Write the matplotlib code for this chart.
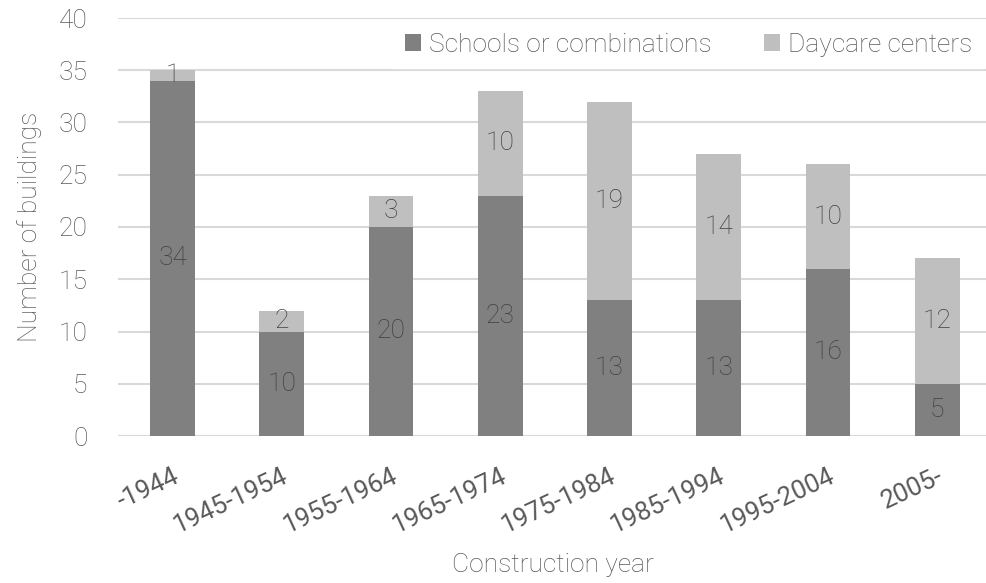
import matplotlib
matplotlib.use("Agg")
import matplotlib.pyplot as plt
from matplotlib import font_manager
import numpy as np

categories = ["-1944", "1945-1954", "1955-1964", "1965-1974", "1975-1984", "1985-1994", "1995-2004", "2005-"]
schools = [34, 10, 20, 23, 13, 13, 16, 5]
daycare = [1, 2, 3, 10, 19, 14, 10, 12]
yticks = [0, 5, 10, 15, 20, 25, 30, 35, 40]

dark = "#808080"
light = "#bfbfbf"
txt = "#595959"

names = {f.name for f in font_manager.fontManager.ttflist}
fam = "Roboto" if "Roboto" in names else "DejaVu Sans"
plt.rcParams["font.family"] = [fam, "DejaVu Sans"]
W = "light"

fig = plt.figure(figsize=(9.87, 5.83), dpi=100)
ax = fig.add_axes([118/987, 1-436/583, 1-118/987, (436-18)/583])

x = np.arange(len(categories))
w = 0.41
ax.bar(x, schools, w, color=dark, label="Schools or combinations", zorder=3)
ax.bar(x, daycare, w, bottom=schools, color=light, label="Daycare centers", zorder=3)

for i in range(len(categories)):
    ax.text(x[i], schools[i]/2, str(schools[i]), ha="center", va="center",
            fontsize=19, color="#404040", fontweight=W, zorder=4)
    ax.text(x[i], schools[i] + daycare[i]/2, str(daycare[i]), ha="center", va="center",
            fontsize=19, color="#404040", fontweight=W, zorder=4)

ax.set_ylim(0, 40)
ax.set_xlim(-0.5, (987-117.4)/109.3 - 0.5)
ax.set_yticks(yticks)
ax.set_yticklabels([str(v) for v in yticks], fontsize=19, color=txt, fontweight=W)
ax.yaxis.grid(True, color="#d9d9d9", linewidth=1.5, zorder=0)
ax.set_axisbelow(True)
for s in ax.spines.values():
    s.set_visible(False)
ax.tick_params(axis="both", length=0)
ax.tick_params(axis="y", pad=22)
ax.set_xticks(x)
ax.set_xticklabels(categories, rotation=25, ha="right", rotation_mode="anchor",
                   fontsize=18.5, color=txt)
ax.tick_params(axis="x", pad=20)
ax.axhline(0, color="#d9d9d9", linewidth=1.5, zorder=1)

ax.set_ylabel("Number of buildings", fontsize=19, color=txt, fontweight=W, labelpad=12)
ax.set_xlabel("Construction year", fontsize=19, color=txt, fontweight=W, labelpad=11)

leg = ax.legend(loc="upper right", bbox_to_anchor=(1.0, 1.0), ncol=2, frameon=True,
                fontsize=19, handlelength=0.6, handleheight=0.6, handletextpad=0.3,
                columnspacing=2.0, borderaxespad=0.1, borderpad=0.45, facecolor="white",
                edgecolor="white", framealpha=1.0, fancybox=False)
for t in leg.get_texts():
    t.set_color(txt)
    t.set_fontweight(W)

fig.savefig("out.png", dpi=100)
